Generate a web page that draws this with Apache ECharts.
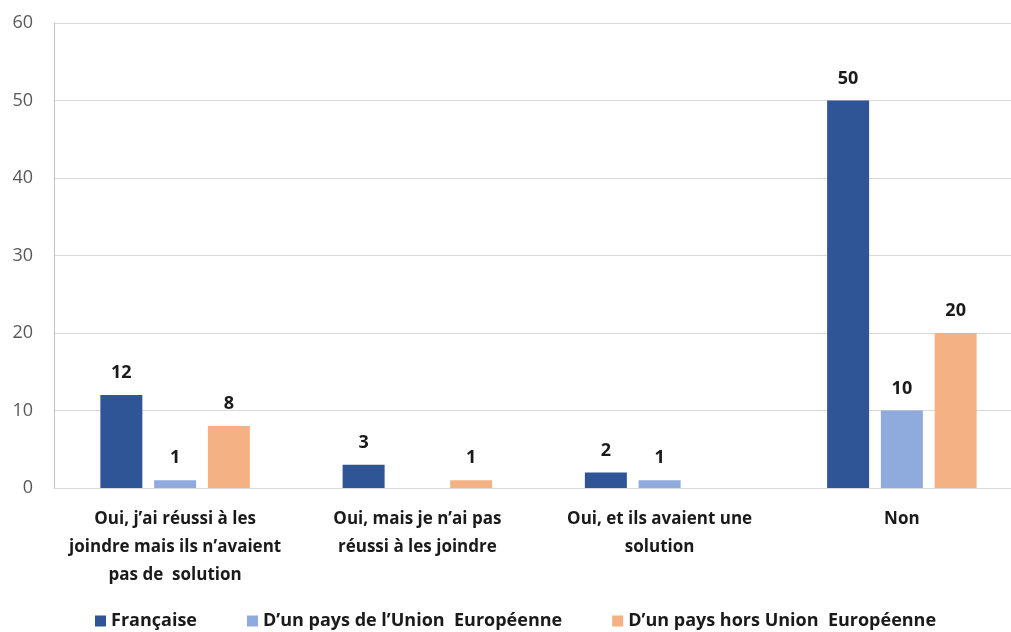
<!DOCTYPE html>
<html><head><meta charset="utf-8">
<script src="https://cdn.jsdelivr.net/npm/echarts@6/dist/echarts.min.js"></script>
<style>html,body{margin:0;padding:0;background:#fff}#c{width:1011px;height:632px}</style>
</head><body><div id="c"></div>
<script>
const categories = [
  "Oui, j’ai réussi à les\njoindre mais ils n’avaient\npas de  solution",
  "Oui, mais je n’ai pas\nréussi à les joindre",
  "Oui, et ils avaient une\nsolution",
  "Non"
];
const seriesNames = ["Française", "D’un pays de l’Union  Européenne", "D’un pays hors Union  Européenne"];
const francaise = [12, 3, 2, 50];
const unionEuropeenne = [1, null, 1, 10];
const horsUnion = [8, 1, null, 20];
const yTicks = {min: 0, max: 60, interval: 10};
const colors = ["#2F5597", "#8FAADC", "#F4B183"];

const font = "'Open Sans', 'Noto Sans', sans-serif";
const chart = echarts.init(document.getElementById('c'));
const mk = (name, data, color) => ({
  name, type: 'bar', data,
  itemStyle: {color},
  barWidth: 42,
  barGap: '28%',
  label: {show: true, position: 'top', distance: 13, fontFamily: font, fontWeight: 'bold', fontSize: 18, color: '#1a1a1a',
    formatter: p => (p.value == null ? '' : p.value)}
});
chart.setOption({
  animation: false,
  textStyle: {fontFamily: font},
  grid: {left: 54, right: -12, top: 23, bottom: 144, containLabel: false, outerBoundsMode: 'none'},
  legend: {
    top: 612, left: 95, padding: 0, itemWidth: 11, itemHeight: 11, itemGap: 50,
    icon: 'rect',
    textStyle: {fontFamily: font, fontWeight: 'bold', fontSize: 18, color: '#1a1a1a'}
  },
  xAxis: {
    type: 'category', data: categories,
    axisLine: {lineStyle: {color: '#d9d9d9'}},
    axisTick: {show: false},
    axisLabel: {fontFamily: font, fontWeight: 'bold', fontSize: 17, color: '#1a1a1a', lineHeight: 28, margin: 17, interval: 0}
  },
  yAxis: {
    type: 'value', min: yTicks.min, max: yTicks.max, interval: yTicks.interval,
    axisLine: {show: true, lineStyle: {color: '#bfbfbf'}},
    axisTick: {show: false},
    splitLine: {lineStyle: {color: '#d9d9d9'}},
    axisLabel: {fontFamily: font, fontSize: 18, color: '#595959', margin: 21}
  },
  series: [
    mk(seriesNames[0], francaise, colors[0]),
    mk(seriesNames[1], unionEuropeenne, colors[1]),
    mk(seriesNames[2], horsUnion, colors[2])
  ]
});
</script></body></html>
